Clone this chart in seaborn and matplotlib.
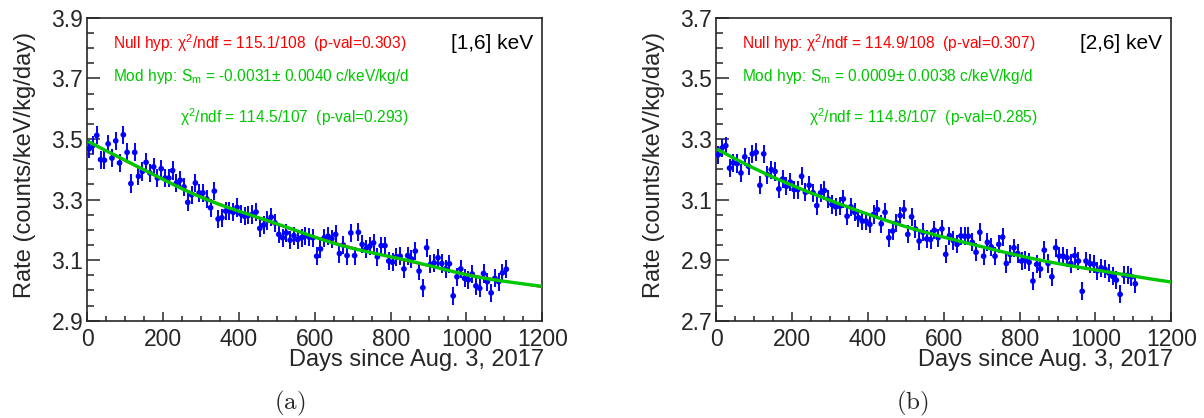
"""
Annual modulation fits: rate vs. days, two energy windows.
"""

import numpy as np
import matplotlib.pyplot as plt
import matplotlib.ticker as mticker
import seaborn as sns

# 10-day bins, days since Aug. 3, 2017
DAYS = [
    5, 15, 25, 35, 45, 55, 65, 75, 85, 95,
    105, 115, 125, 135, 145, 155, 165, 175, 185, 195,
    205, 215, 225, 235, 245, 255, 265, 275, 285, 295,
    305, 315, 325, 335, 345, 355, 365, 375, 385, 395,
    405, 415, 425, 435, 445, 455, 465, 475, 485, 495,
    505, 515, 525, 535, 545, 555, 565, 575, 585, 595,
    605, 615, 625, 635, 645, 655, 665, 675, 685, 695,
    705, 715, 725, 735, 745, 755, 765, 775, 785, 795,
    805, 815, 825, 835, 845, 855, 865, 875, 885, 895,
    905, 915, 925, 935, 945, 955, 965, 975, 985, 995,
    1005, 1015, 1025, 1035, 1045, 1055, 1065, 1075, 1085, 1095,
    1105,
]

# [1,6] keV rate (counts/keV/kg/day)
RATE_16 = [
    3.468, 3.479, 3.512, 3.432, 3.430, 3.484, 3.437, 3.494, 3.421, 3.514,
    3.456, 3.353, 3.456, 3.377, 3.393, 3.423, 3.388, 3.408, 3.371, 3.402,
    3.371, 3.371, 3.396, 3.355, 3.364, 3.342, 3.291, 3.316, 3.355, 3.322,
    3.322, 3.302, 3.273, 3.328, 3.236, 3.240, 3.262, 3.262, 3.258, 3.274,
    3.252, 3.245, 3.248, 3.251, 3.259, 3.205, 3.216, 3.231, 3.242, 3.223,
    3.185, 3.174, 3.190, 3.166, 3.181, 3.168, 3.174, 3.181, 3.176, 3.174,
    3.113, 3.137, 3.174, 3.179, 3.171, 3.185, 3.122, 3.150, 3.115, 3.190,
    3.115, 3.192, 3.152, 3.137, 3.146, 3.157, 3.111, 3.148, 3.148, 3.097,
    3.093, 3.111, 3.113, 3.071, 3.115, 3.104, 3.130, 3.064, 3.009, 3.141,
    3.086, 3.091, 3.108, 3.089, 3.071, 3.088, 2.982, 3.045, 3.071, 3.040,
    3.035, 3.054, 3.015, 3.007, 3.056, 3.029, 2.992, 3.040, 3.029, 3.058,
    3.070,
]

# [2,6] keV rate (counts/keV/kg/day)
RATE_26 = [
    3.248, 3.270, 3.278, 3.204, 3.221, 3.219, 3.188, 3.241, 3.210, 3.251,
    3.256, 3.147, 3.251, 3.182, 3.199, 3.193, 3.135, 3.168, 3.144, 3.158,
    3.133, 3.133, 3.177, 3.124, 3.147, 3.123, 3.080, 3.122, 3.130, 3.102,
    3.084, 3.076, 3.078, 3.102, 3.045, 3.076, 3.058, 3.040, 3.029, 3.029,
    3.018, 3.051, 3.067, 3.020, 3.058, 2.974, 2.996, 3.023, 3.047, 3.067,
    2.985, 3.043, 3.003, 2.963, 2.992, 2.970, 2.968, 2.999, 2.974, 3.003,
    2.919, 2.981, 2.965, 2.952, 2.980, 2.979, 2.979, 2.959, 2.926, 2.992,
    2.913, 2.959, 2.944, 2.913, 2.952, 2.976, 2.889, 2.919, 2.941, 2.922,
    2.897, 2.900, 2.893, 2.831, 2.886, 2.871, 2.933, 2.889, 2.845, 2.941,
    2.913, 2.913, 2.908, 2.889, 2.915, 2.897, 2.797, 2.897, 2.889, 2.887,
    2.865, 2.875, 2.870, 2.858, 2.847, 2.834, 2.787, 2.850, 2.850, 2.845,
    2.822,
]

RATE_ERR = 0.03

# fit parameters: a + b*exp(-t/tau) (+ Sm*cos(2pi(t-t0)/T) for mod hyp)
FIT_16 = dict(a=2.826, b=0.669, tau=931.0, sm=-0.0031)
FIT_26 = dict(a=2.680, b=0.5875, tau=873.0, sm=0.0009)
PERIOD = 365.25
PHASE = -62.0  # June 2 relative to Aug. 3

PANELS = [
    dict(rate=RATE_16, fit=FIT_16, ylim=(2.9, 3.9), erange="[1,6] keV",
         null=r"Null hyp: $\chi^{2}$/ndf = 115.1/108  (p-val=0.303)",
         mod=r"Mod hyp: S$_{\mathrm{m}}$ = -0.0031$\pm$ 0.0040 c/keV/kg/d",
         chi=r"$\chi^{2}$/ndf = 114.5/107  (p-val=0.293)", tag="(a)"),
    dict(rate=RATE_26, fit=FIT_26, ylim=(2.7, 3.7), erange="[2,6] keV",
         null=r"Null hyp: $\chi^{2}$/ndf = 114.9/108  (p-val=0.307)",
         mod=r"Mod hyp: S$_{\mathrm{m}}$ = 0.0009$\pm$ 0.0038 c/keV/kg/d",
         chi=r"$\chi^{2}$/ndf = 114.8/107  (p-val=0.285)", tag="(b)"),
]

RED = "#ff0000"
GREEN = "#00c800"
BLUE = "#0000ff"

sns.set_style("ticks")
plt.rcParams["font.family"] = ["Liberation Sans", "DejaVu Sans"]
plt.rcParams["mathtext.fontset"] = "custom"
plt.rcParams["mathtext.rm"] = "Liberation Sans"
plt.rcParams["mathtext.it"] = "Liberation Sans:italic"
plt.rcParams["mathtext.default"] = "regular"

fig = plt.figure(figsize=(12.04, 4.18), dpi=100)
axes = [
    fig.add_axes([87.3 / 1204, 1 - 320.7 / 418, 455 / 1204, 302.8 / 418]),
    fig.add_axes([716.3 / 1204, 1 - 320.7 / 418, 455 / 1204, 302.8 / 418]),
]
tag_x = [290 / 1204, 912 / 1204]

for ax, p, tx in zip(axes, PANELS, tag_x):
    f = p["fit"]
    t = np.linspace(5, 1200, 400)
    null = f["a"] + f["b"] * np.exp(-t / f["tau"])
    mod = null + f["sm"] * np.cos(2 * np.pi * (t - PHASE) / PERIOD)

    ax.errorbar(DAYS, p["rate"], yerr=RATE_ERR, fmt="none",
                ecolor=BLUE, elinewidth=1.4, capsize=0, zorder=2)
    sns.scatterplot(x=DAYS, y=p["rate"], color=BLUE, s=17,
                    edgecolor="none", ax=ax, zorder=3)
    sns.lineplot(x=t, y=null, color=RED, lw=1.2, ax=ax, zorder=4)
    sns.lineplot(x=t, y=mod, color=GREEN, lw=2.4, ax=ax, zorder=5)

    ax.set_xlim(0, 1200)
    ax.set_ylim(*p["ylim"])
    ax.xaxis.set_major_locator(mticker.MultipleLocator(200))
    ax.xaxis.set_minor_locator(mticker.MultipleLocator(50))
    ax.yaxis.set_major_locator(mticker.MultipleLocator(0.2, offset=0.1))
    ax.yaxis.set_minor_locator(mticker.MultipleLocator(0.05))
    ax.yaxis.set_major_formatter(mticker.FormatStrFormatter("%.1f"))
    ax.tick_params(which="both", direction="in", top=False, right=False,
                   labelsize=16.5, width=1.1)
    ax.tick_params(axis="y", which="major", length=9.4, pad=3)
    ax.tick_params(axis="y", which="minor", length=5)
    ax.tick_params(axis="x", which="major", length=6.5, pad=5)
    ax.tick_params(axis="x", which="minor", length=3.4)
    for sp in ax.spines.values():
        sp.set_linewidth(1.2)

    ax.set_ylabel("Rate (counts/keV/kg/day)", fontsize=17, loc="top")
    ax.yaxis.set_label_coords(-0.113, 0.953)
    ax.set_xlabel("Days since Aug. 3, 2017", fontsize=17, loc="right")
    ax.xaxis.set_label_coords(1.005, -0.093)

    ax.text(0.057, 0.917, p["null"], color=RED, fontsize=11.2,
            transform=ax.transAxes, va="center", ha="left")
    ax.text(0.057, 0.805, p["mod"], color=GREEN, fontsize=11.2,
            transform=ax.transAxes, va="center", ha="left")
    ax.text(0.204, 0.673, p["chi"], color=GREEN, fontsize=11.2,
            transform=ax.transAxes, va="center", ha="left")
    ax.text(0.80, 0.917, p["erange"], color="black", fontsize=15,
            transform=ax.transAxes, va="center", ha="left")

    fig.text(tx, 1 - 403 / 418, r"$\mathrm{%s}$" % p["tag"], fontsize=18,
             ha="center", va="center", math_fontfamily="cm")

fig.savefig("out.png", dpi=100)
